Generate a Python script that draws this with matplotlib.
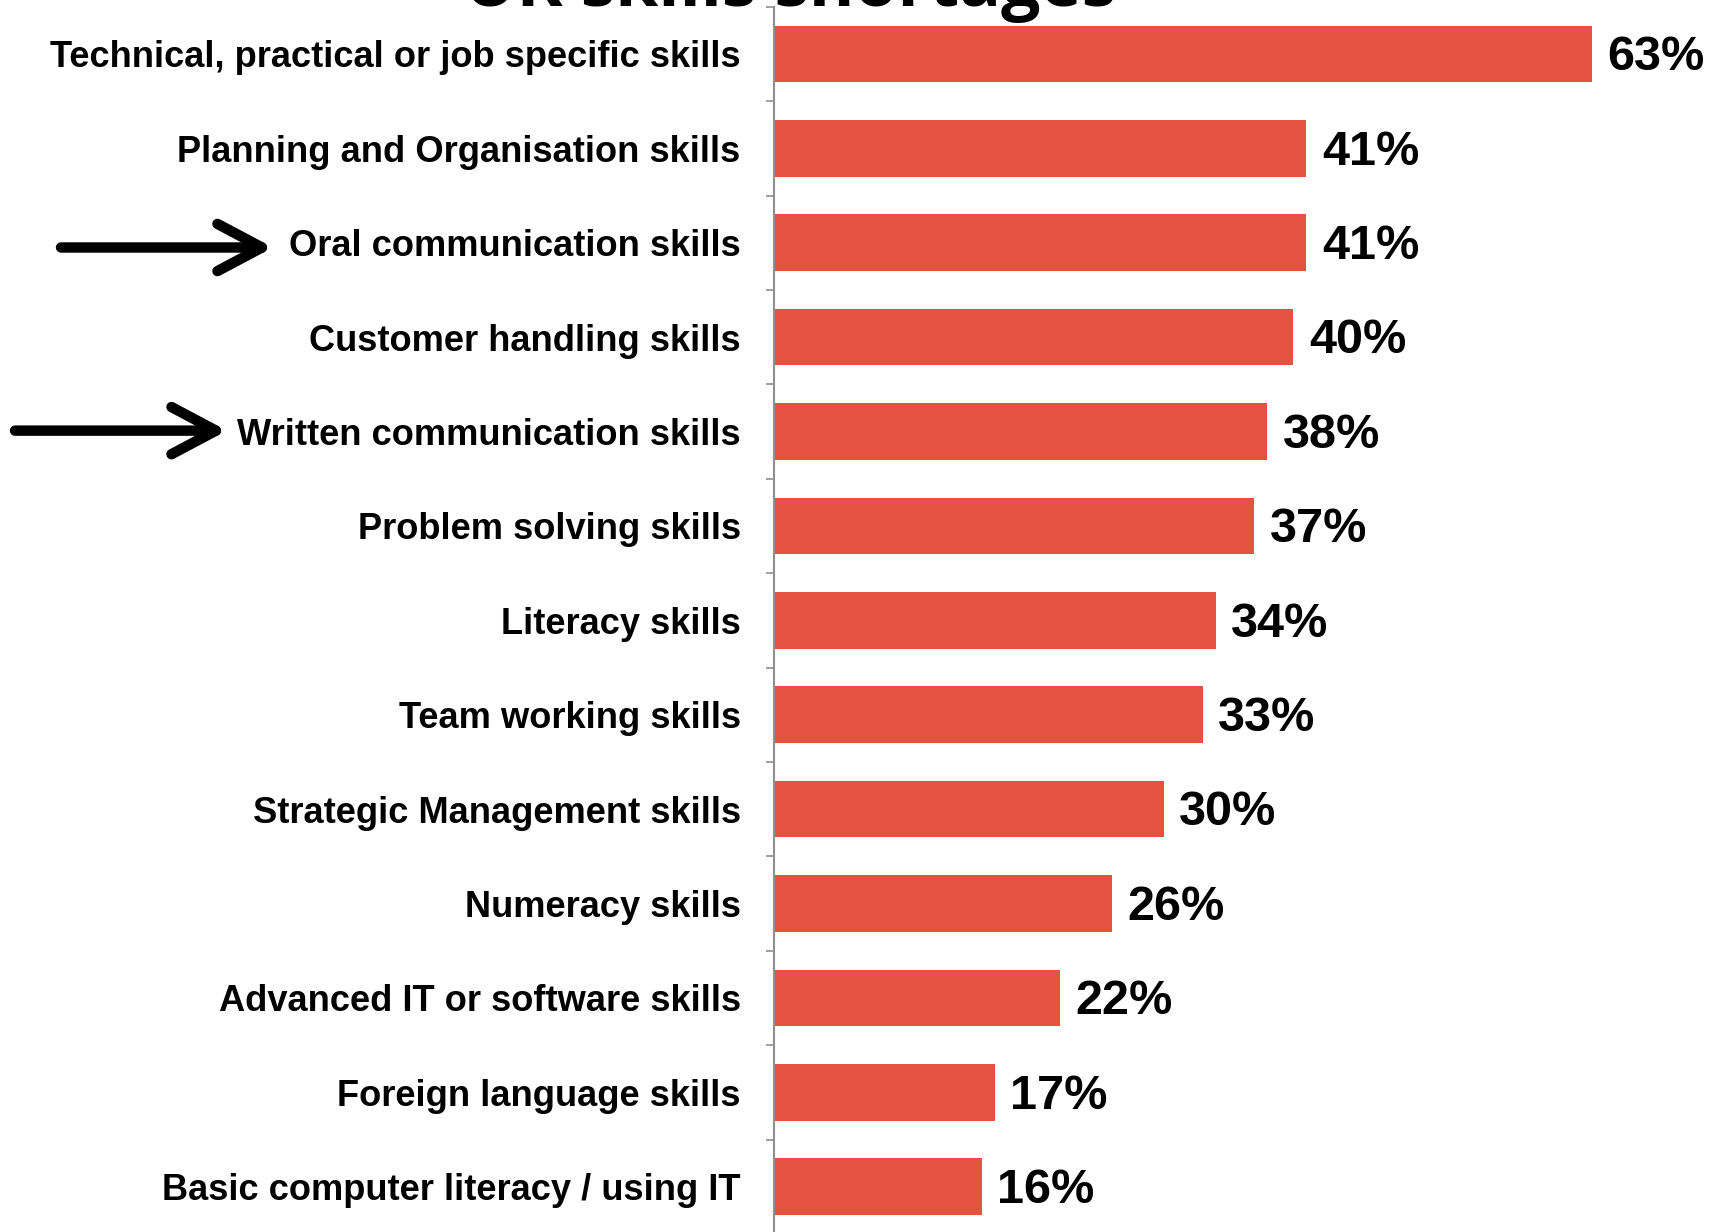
import matplotlib
matplotlib.use('Agg')
import matplotlib.pyplot as plt
from matplotlib.transforms import blended_transform_factory

skills = ['Technical, practical or job specific skills',
          'Planning and Organisation skills',
          'Oral communication skills',
          'Customer handling skills',
          'Written communication skills',
          'Problem solving skills',
          'Literacy skills',
          'Team working skills',
          'Strategic Management skills',
          'Numeracy skills',
          'Advanced IT or software skills',
          'Foreign language skills',
          'Basic computer literacy / using IT']
pct = [63, 41, 41, 40, 38, 37, 34, 33, 30, 26, 22, 17, 16]
arrow_rows = ['Oral communication skills', 'Written communication skills']
title = 'UK skills shortages'

plt.rcParams['font.family'] = ['Liberation Sans', 'DejaVu Sans']

fig = plt.figure(figsize=(17.21, 12.32), dpi=100)
ax = fig.add_axes([774/1721, -0.0016, 909/1721, 0.9961])

ypos = list(range(len(skills)))
ax.barh(ypos, pct, height=0.6, color='#e55241')
ax.set_xlim(0, 70)
ax.set_ylim(len(skills) - 0.5, -0.5)

for y, v in zip(ypos, pct):
    ax.text(v + 1.2, y + 0.04, '{}%'.format(v), va='center', ha='left',
            fontsize=35, fontweight='bold', color='black')

ax.set_yticks(ypos)
ax.set_yticklabels(skills, fontsize=26.1, fontweight='bold')
ax.tick_params(axis='y', which='major', length=0, pad=24)
ax.set_yticks([i - 0.5 for i in range(len(skills))], minor=True)
ax.tick_params(axis='y', which='minor', length=6, width=1.2, color='#909090')
ax.set_xticks([])
for s in ['top', 'right', 'bottom']:
    ax.spines[s].set_visible(False)
ax.spines['left'].set_color('#909090')
ax.spines['left'].set_linewidth(1.5)

# arrows pointing at the communication skills
tr = blended_transform_factory(fig.transFigure, ax.transData)
starts = [61/1721, 15/1721]
ends = [273/1721, 227/1721]
nudge = [0.05, -0.01]
for name, x0, x1, dy in zip(arrow_rows, starts, ends, nudge):
    y = skills.index(name) + dy
    ax.annotate('', xy=(x1, y), xycoords=tr, xytext=(x0, y), textcoords=tr,
                arrowprops=dict(arrowstyle='->,head_length=3.2,head_width=1.7',
                                color='black', lw=7.5, capstyle='round',
                                joinstyle='round', shrinkA=0, shrinkB=0),
                annotation_clip=False)

fig.text(790/1721, 1 - 6/1232, title, ha='center', va='baseline',
         fontsize=50, fontweight='bold', family=['Open Sans', 'DejaVu Sans'])

fig.savefig('out.png', dpi=100)
